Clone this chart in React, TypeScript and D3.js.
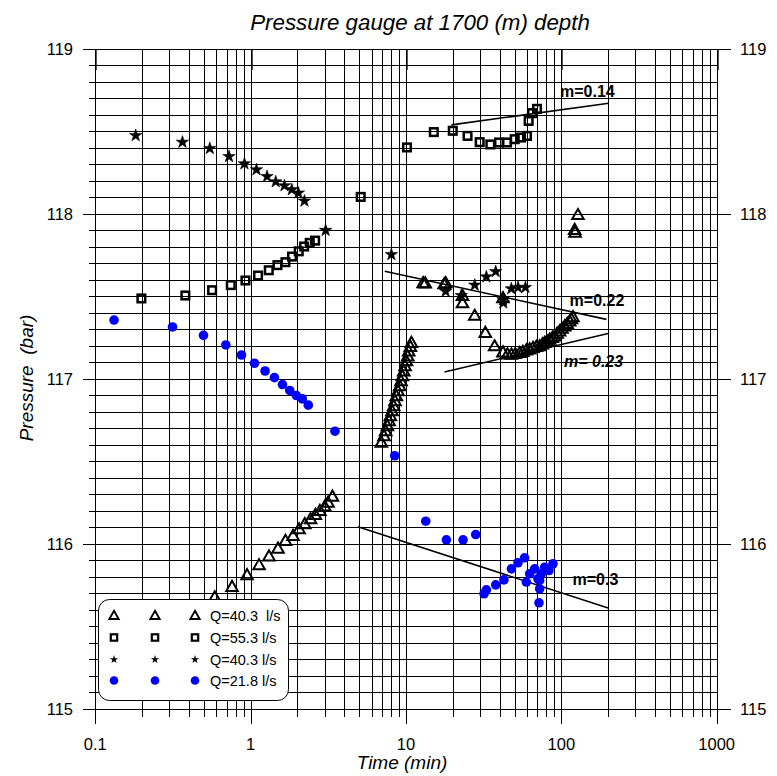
import React from "react";
import * as d3 from "d3";

// ---------- data ----------
const triTime = [
  0.587, 0.759, 0.948, 1.133, 1.313, 1.5, 1.675, 1.875, 2.05, 2.23, 2.43, 2.61, 2.79, 3.0, 3.15, 3.36,
  6.94, 7.22, 7.4, 7.59, 7.78, 7.93, 8.13, 8.33, 8.5, 8.67, 8.89, 9.11, 9.29, 9.48, 9.67, 9.86, 10.06, 10.26, 10.41, 10.67, 10.83,
  12.9, 13.3, 17.6, 18.0, 23.1, 23.1, 27.7, 32.4, 37.2, 42.1,
  42.1, 45, 47.7, 50.5, 53.9, 56.5, 59.5, 62.5, 65.7, 69, 72.5, 75.5, 78.1, 81, 84.1, 87.5, 90.6, 94, 97.5, 101, 105, 109, 113.1, 116, 118.8,
  121.8, 122.5, 127.9,
];
const triPress = [
  115.676, 115.74, 115.811, 115.871, 115.924, 115.972, 116.019, 116.049, 116.089, 116.12, 116.15, 116.176, 116.2, 116.227, 116.25, 116.287,
  116.614, 116.654, 116.684, 116.715, 116.745, 116.775, 116.806, 116.836, 116.866, 116.896, 116.926, 116.957, 116.987, 117.017, 117.047, 117.078, 117.108, 117.138, 117.168, 117.195, 117.219,
  117.582, 117.58, 117.575, 117.582, 117.505, 117.46, 117.384, 117.28, 117.199, 117.491,
  117.162, 117.15, 117.148, 117.152, 117.158, 117.165, 117.174, 117.18, 117.189, 117.195, 117.199, 117.21, 117.219, 117.228, 117.239, 117.25, 117.259, 117.275, 117.289, 117.305, 117.32, 117.335, 117.35, 117.363, 117.376,
  117.905, 117.888, 117.995,
];

const sqTime = [
  0.198, 0.38, 0.565, 0.745, 0.926, 1.116, 1.308, 1.488, 1.675, 1.847, 2.04, 2.21, 2.4, 2.6, 5.11,
  10.15, 15.1, 20.0, 24.9, 29.8, 34.9, 39.7, 44.7, 50.1, 55.0, 60.1, 61.6, 64.7, 69.7,
];
const sqPress = [
  117.487, 117.505, 117.537, 117.568, 117.596, 117.626, 117.658, 117.689, 117.707, 117.741, 117.773, 117.802, 117.824, 117.838, 118.103,
  118.403, 118.496, 118.504, 118.473, 118.435, 118.421, 118.433, 118.433, 118.453, 118.463, 118.473, 118.564, 118.611, 118.637,
];

const starTime = [
  0.182, 0.364, 0.546, 0.726, 0.912, 1.09, 1.275, 1.45, 1.65, 1.84, 2.03, 2.22, 3.04,
  8.05, 18.0, 22.7, 27.7, 32.9, 37.8, 42.1, 42.3, 47.6, 52.6, 58.7,
];
const starPress = [
  118.475, 118.435, 118.397, 118.348, 118.304, 118.268, 118.227, 118.195, 118.171, 118.147, 118.127, 118.078, 117.9,
  117.753, 117.53, 117.505, 117.568, 117.618, 117.65, 117.48, 117.46, 117.546, 117.554, 117.554,
];

const cirTime = [
  0.132, 0.314, 0.497, 0.692, 0.873, 1.058, 1.238, 1.422, 1.602, 1.785, 1.97, 2.15, 2.35, 3.49, 8.46,
  13.4, 18.2, 23.3, 28.1, 31.8, 32.9, 37.8, 42.7, 47.7, 52.6, 58.0, 59.5, 62.5, 67.3, 70.7, 72.5, 71.8, 74.3, 78.1, 83.2, 88.3, 72.5,
];
const cirPress = [
  117.356, 117.314, 117.263, 117.205, 117.144, 117.094, 117.047, 117.007, 116.965, 116.929, 116.898, 116.878, 116.84, 116.682, 116.533,
  116.136, 116.023, 116.023, 116.055, 115.696, 115.72, 115.75, 115.78, 115.847, 115.884, 115.914, 115.767, 115.817, 115.847, 115.787, 115.726, 115.641, 115.817, 115.857, 115.837, 115.878, 115.777,
];

// straight-line fits: [t1, p1, t2, p2]
const fitLines = [
  [19.6, 118.54, 202, 118.671],
  [7.3, 117.652, 195, 117.36],
  [17.7, 117.041, 200, 117.275],
  [4.9, 116.103, 200, 115.609],
];
const fitLabels = ["m=0.14", "m=0.22", "m= 0.23", "m=0.3"];
const fitLabelTime = [98, 113, 104, 118];
const fitLabelPress = [118.71, 117.44, 117.07, 115.75];
const fitLabelItalic = [false, false, true, false];

const legendLabels = ["Q=40.3  l/s", "Q=55.3 l/s", "Q=40.3 l/s", "Q=21.8 l/s"];
const xTickValues = [0.1, 1, 10, 100, 1000];
const xTickLabels = ["0.1", "1", "10", "100", "1000"];
const yTickValues = [115, 116, 117, 118, 119];

const FONT = "'Liberation Sans', Arial, Helvetica, sans-serif";

export default function App() {
  const W = 777;
  const H = 776;
  const x = d3.scaleLog().domain([0.1, 1000]).range([95.3, 716.7]);
  const y = d3.scaleLinear().domain([115, 119]).range([708.5, 49]);
  const left = x(0.1);
  const right = x(1000);
  const top = y(119);
  const bottom = y(115);

  const vGrid: { v: number; major: boolean }[] = [];
  for (let e = -1; e <= 3; e++) {
    for (let k = 1; k <= 9; k++) {
      const v = k * Math.pow(10, e);
      vGrid.push({ v, major: k === 1 });
      if (e === 3) break;
    }
  }
  const hGrid: { v: number; major: boolean }[] = [];
  for (let i = 0; i <= 40; i++) {
    const v = 115 + i * 0.1;
    hGrid.push({ v, major: i % 10 === 0 });
  }

  const triPath = (s: number) => `M0,${-s * 0.55}L${s * 0.55},${s * 0.42}L${-s * 0.55},${s * 0.42}Z`;
  const starSym = d3.symbol().type(d3.symbolStar).size(48)()!;
  const starSymSmall = d3.symbol().type(d3.symbolStar).size(22)()!;

  const line = d3.line<[number, number]>().x((d) => x(d[0])).y((d) => y(d[1]));

  const lgX = 98.5;
  const lgY = 599.5;
  const lgW = 190;
  const lgH = 101;
  const rowY = [615.5, 637.5, 659.5, 680.5];
  const colX = [114, 155, 195];

  const legendSymbol = (row: number, cx: number, cy: number, key: string) => {
    if (row === 0)
      return <path key={key} d={triPath(8.5)} transform={`translate(${cx},${cy})`} fill="none" stroke="#000" strokeWidth={1.9} />;
    if (row === 1)
      return <rect key={key} x={cx - 3.2} y={cy - 3.2} width={6.4} height={6.4} fill="none" stroke="#000" strokeWidth={2.2} />;
    if (row === 2) return <path key={key} d={starSymSmall} transform={`translate(${cx},${cy})`} fill="#000" />;
    return <circle key={key} cx={cx} cy={cy} r={4.3} fill="#0000FF" />;
  };

  const px = (v: number) => Math.round(v) + 0.5;

  return (
    <svg width={W} height={H} style={{ position: "absolute", left: 0, top: 0, background: "#fff" }} fontFamily={FONT}>
      <rect x={0} y={0} width={W} height={H} fill="#fff" />
      {/* vertical grid */}
      {vGrid.map((g, i) => (
        <line
          key={"v" + i}
          x1={px(x(g.v))}
          x2={px(x(g.v))}
          y1={px(top)}
          y2={px(bottom) + (g.major ? 14 : 7)}
          stroke="#000"
          strokeWidth={1}
          shapeRendering="crispEdges"
        />
      ))}
      {/* top inward major ticks */}
      {vGrid.filter((g) => g.major).map((g, i) => (
        <line key={"tt" + i} x1={px(x(g.v)) + 1} x2={px(x(g.v)) + 1} y1={top} y2={top + 21} stroke="#555" strokeWidth={1} shapeRendering="crispEdges" />
      ))}
      {/* horizontal grid */}
      {hGrid.map((g, i) => (
        <line
          key={"h" + i}
          x1={px(left) - (g.major ? 13 : 7)}
          x2={px(right) + (g.major ? 13 : 0)}
          y1={px(y(g.v))}
          y2={px(y(g.v))}
          stroke="#000"
          strokeWidth={1}
          shapeRendering="crispEdges"
        />
      ))}

      {/* tick labels */}
      {xTickValues.map((v, i) => (
        <text key={"xl" + i} x={x(v)} y={750} textAnchor="middle" fontSize={16.5} fill="#000">
          {xTickLabels[i]}
        </text>
      ))}
      {yTickValues.map((v, i) => (
        <text key={"yl" + i} x={73} y={y(v) + 6} textAnchor="end" fontSize={16.5} fill="#000">
          {String(v)}
        </text>
      ))}
      {yTickValues.map((v, i) => (
        <text key={"yr" + i} x={740} y={y(v) + 6} textAnchor="start" fontSize={16.5} fill="#000">
          {String(v)}
        </text>
      ))}

      {/* titles */}
      <text x={420} y={30} textAnchor="middle" fontSize={22.3} fontStyle="italic" fill="#000">
        Pressure gauge at 1700 (m) depth
      </text>
      <text x={402} y={769} textAnchor="middle" fontSize={19} fontStyle="italic" fill="#000">
        Time (min)
      </text>
      <text
        transform={`translate(33,378) rotate(-90)`}
        textAnchor="middle"
        fontSize={19}
        fontStyle="italic"
        fill="#000"
        style={{ whiteSpace: "pre" }}
      >
        {"Pressure  (bar)"}
      </text>

      {/* fit lines */}
      {fitLines.map((f, i) => (
        <path
          key={"f" + i}
          d={line([
            [f[0], f[1]],
            [f[2], f[3]],
          ])!}
          stroke="#000"
          strokeWidth={1.6}
          fill="none"
        />
      ))}
      {fitLabels.map((l, i) => (
        <text
          key={"fl" + i}
          x={x(fitLabelTime[i])}
          y={y(fitLabelPress[i])}
          fontSize={16}
          fontWeight="bold"
          fontStyle={fitLabelItalic[i] ? "italic" : "normal"}
          fill="#000"
          style={{ whiteSpace: "pre" }}
        >
          {l}
        </text>
      ))}

      {/* series */}
      {cirTime.map((t, i) => (
        <circle key={"c" + i} cx={x(t)} cy={y(cirPress[i])} r={4.8} fill="#0000FF" />
      ))}
      {starTime.map((t, i) => (
        <path key={"s" + i} d={starSym} transform={`translate(${x(t)},${y(starPress[i])})`} fill="#000" stroke="#000" strokeWidth={0.6} />
      ))}
      {sqTime.map((t, i) => (
        <rect key={"q" + i} x={x(t) - 3.8} y={y(sqPress[i]) - 3.8} width={7.6} height={7.6} fill="none" stroke="#000" strokeWidth={2.5} />
      ))}
      {triTime.map((t, i) => (
        <path
          key={"t" + i}
          d={triPath(10.5)}
          transform={`translate(${x(t)},${y(triPress[i])})`}
          fill="none"
          stroke="#000"
          strokeWidth={2}
        />
      ))}

      {/* legend */}
      <rect x={lgX} y={lgY} width={lgW} height={lgH} rx={11} ry={11} fill="#fff" stroke="#000" strokeWidth={1} />
      {legendLabels.map((l, r) => (
        <g key={"lg" + r}>
          {colX.map((cx, c) => legendSymbol(r, cx, rowY[r], `ls${r}-${c}`))}
          <text x={210} y={rowY[r] + 5} fontSize={14.5} fill="#000" style={{ whiteSpace: "pre" }}>
            {l}
          </text>
        </g>
      ))}
    </svg>
  );
}
